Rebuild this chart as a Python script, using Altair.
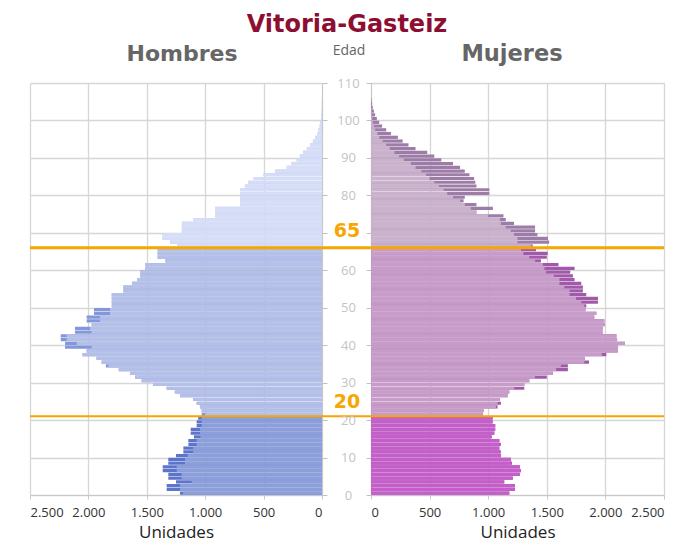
import altair as alt
import pandas as pd

# ---------------- data ----------------
edades = list(range(106))

hombres_claro = [
    1190, 1216, 1216, 1116, 1202, 1202, 1244, 1244, 1173, 1173,   # 0-9
    1150, 1102, 1102, 1073, 1073, 1040, 1045, 1045, 1030, 1030,   # 10-19
    1030, 1000, 1030, 1045, 1073, 1102, 1216, 1260, 1330, 1444,   # 20-29
    1544, 1600, 1644, 1740, 1829, 1887, 1930, 2050, 2015, 1972,   # 30-39
    2100, 2186, 2186, 1972, 1986, 1972, 1900, 1900, 1815, 1815,   # 40-49
    1800, 1800, 1800, 1800, 1700, 1700, 1627, 1584, 1555, 1555,   # 50-59
    1512, 1512, 1340, 1407, 1407, 1407, 1240, 1300, 1365, 1365,   # 60-69
    1200, 1200, 1200, 1100, 913, 913, 913, 700, 700, 700,         # 70-79
    700, 700, 660, 630, 585, 500, 400, 302, 260, 217,             # 80-89
    190, 160, 130, 100, 78, 57, 43, 30, 20, 14,                   # 90-99
    8, 5, 3, 2, 1, 1,                                             # 100-105
]

hombres_oscuro = [
    1216, 1330, 1330, 1250, 1316, 1316, 1364, 1364, 1316, 1316,   # 0-9
    1250, 1187, 1187, 1144, 1144, 1096, 1124, 1124, 1073, 1073,   # 10-19
    1060, 1030, 1030, 1045, 1073, 1102, 1216, 1260, 1330, 1444,   # 20-29
    1544, 1600, 1644, 1740, 1850, 1887, 1930, 2050, 2015, 2200,   # 30-39
    2200, 2237, 2237, 2115, 2115, 1972, 2015, 2015, 1952, 1952,   # 40-49
    1800, 1800, 1800, 1800, 1700, 1700, 1627, 1584, 1555, 1555,   # 50-59
    1512, 1512, 1340, 1407, 1407, 1407, 1240, 1300, 1365, 1365,   # 60-69
    1200, 1200, 1200, 1100, 913, 913, 913, 700, 700, 700,         # 70-79
    700, 700, 660, 630, 585, 500, 400, 302, 260, 217,             # 80-89
    190, 160, 130, 100, 78, 57, 43, 30, 20, 14,                   # 90-99
    8, 5, 3, 2, 1, 1,                                             # 100-105
]

mujeres_claro = [
    1180, 1223, 1223, 1130, 1210, 1265, 1280, 1270, 1194, 1194,   # 0-9
    1109, 1100, 1095, 1095, 1095, 1024, 1052, 1060, 1060, 1038,   # 10-19
    1038, 953, 960, 1066, 1080, 1100, 1165, 1180, 1223, 1308,     # 20-29
    1351, 1400, 1551, 1580, 1620, 1820, 1823, 1970, 2105, 2108,   # 30-39
    2166, 2100, 2094, 1976, 1976, 1994, 1991, 1905, 1923, 1830,   # 40-49
    1820, 1794, 1750, 1694, 1694, 1650, 1608, 1608, 1560, 1494,   # 50-59
    1480, 1466, 1400, 1350, 1300, 1280, 1363, 1250, 1250, 1220,   # 60-69
    1193, 1150, 1108, 1100, 1000, 900, 852, 800, 760, 700,        # 70-79
    650, 620, 580, 540, 500, 470, 430, 380, 340, 280,             # 80-89
    240, 200, 160, 130, 100, 71, 55, 35, 25, 15,                  # 90-99
    10, 6, 4, 2, 1, 0,                                            # 100-105
]

mujeres_oscuro = [
    1180, 1228, 1228, 1138, 1210, 1270, 1280, 1270, 1203, 1194,   # 0-9
    1109, 1108, 1095, 1108, 1095, 1031, 1052, 1060, 1060, 1038,   # 10-19
    1038, 953, 960, 1080, 1109, 1100, 1165, 1180, 1308, 1308,     # 20-29
    1351, 1500, 1551, 1680, 1680, 1860, 1823, 2008, 2105, 2108,   # 30-39
    2166, 2100, 2094, 1976, 1976, 1994, 1991, 1905, 1923, 1830,   # 40-49
    1837, 1937, 1937, 1837, 1808, 1808, 1794, 1737, 1723, 1700,   # 50-59
    1737, 1600, 1450, 1500, 1508, 1408, 1380, 1520, 1510, 1420,   # 60-69
    1400, 1400, 1220, 1150, 1130, 900, 1040, 900, 790, 800,       # 70-79
    1010, 1010, 900, 890, 880, 840, 800, 760, 700, 600,           # 80-89
    540, 480, 380, 320, 270, 230, 170, 130, 95, 70,               # 90-99
    50, 35, 25, 15, 10, 5,                                        # 100-105
]

ticks_unidades = [0, 500, 1000, 1500, 2000, 2500]
ticks_edad = list(range(0, 111, 10))
lineas_edad = [21, 66]
lineas_grosor = [2, 3]
etiquetas_texto = ["20", "65"]
etiquetas_edad = [23.1, 68.8]

# ---------------- styling ----------------
COLORES = {
    "Hc0": "#8c9fdb", "Hc1": "#b4c0e8", "Hc2": "#d5ddf7",
    "Ho0": "#5c74c9", "Ho1": "#8397db", "Ho2": "#b9c5ee",
    "Mc0": "#c45fca", "Mc1": "#c89cc9", "Mc2": "#cab1cc",
    "Mo0": "#b24fbb", "Mo1": "#a05aa8", "Mo2": "#9d7ca8",
}
NARANJA = "#f7a600"
GRID = "#d6d6d6"
W_L, W_R, H, GAP = 292, 293, 412, 49


def tramo(a):
    return "0" if a <= 20 else ("1" if a <= 65 else "2")


rows = []
for sexo, claro, oscuro in [("H", hombres_claro, hombres_oscuro),
                            ("M", mujeres_claro, mujeres_oscuro)]:
    for a, c, o in zip(edades, claro, oscuro):
        rows.append(dict(sexo=sexo, edad=a, serie="o", valor=o, clave=f"{sexo}o{tramo(a)}"))
        rows.append(dict(sexo=sexo, edad=a, serie="c", valor=c, clave=f"{sexo}c{tramo(a)}"))
df = pd.DataFrame(rows)
df["y0"] = df["edad"] + 0.07
df["y1"] = df["edad"] + 0.93

lineas = pd.DataFrame({"y0": lineas_edad, "grosor": lineas_grosor})
etiquetas = pd.DataFrame({"y0": etiquetas_edad, "txt": etiquetas_texto})

color_scale = alt.Scale(domain=list(COLORES.keys()), range=list(COLORES.values()))
fmt = "replace(format(datum.value, ','), ',', '.')"

x_axis_common = dict(values=ticks_unidades, labelExpr=fmt, title="Unidades",
                     grid=True, gridColor=GRID, gridWidth=1.3,
                     domainColor="#c8c8c8", tickColor="#c8c8c8", tickSize=4,
                     labelFont="Open Sans", labelFontSize=13, labelColor="#333333",
                     labelPadding=7, titleFont="Open Sans", titleFontSize=17,
                     titleFontWeight="normal", titleColor="#222222", titlePadding=5)


def cabecera(texto, x, y, size, weight, font, color):
    return alt.Chart(pd.DataFrame({"t": [texto]})).mark_text(
        font=font, fontSize=size, fontWeight=weight, color=color, align="center",
        baseline="alphabetic").encode(x=alt.value(x), y=alt.value(y), text="t:N")


def panel(sexo, reverse, width, y_axis):
    x_enc = alt.X("valor:Q", scale=alt.Scale(domain=[0, 2500], reverse=reverse, nice=False),
                  axis=alt.Axis(**x_axis_common))
    y_enc = alt.Y("y0:Q", scale=alt.Scale(domain=[0, 110], nice=False), axis=y_axis)
    base = alt.Chart(df).transform_filter(alt.datum.sexo == sexo)
    oscuro = base.transform_filter(alt.datum.serie == "o").mark_bar(strokeWidth=0).encode(
        x=x_enc, x2=alt.X2(datum=0), y=y_enc, y2="y1:Q",
        color=alt.Color("clave:N", scale=color_scale, legend=None))
    claro = base.transform_filter(alt.datum.serie == "c").mark_bar(strokeWidth=0).encode(
        x=x_enc, x2=alt.X2(datum=0), y=y_enc, y2="y1:Q",
        color=alt.Color("clave:N", scale=color_scale, legend=None))
    ext = width + GAP if reverse else width
    reglas = alt.Chart(lineas).mark_rule(color=NARANJA).encode(
        y=y_enc, x=alt.value(0), x2=alt.value(ext),
        strokeWidth=alt.StrokeWidth("grosor:Q", scale=None))
    layers = [oscuro, claro, reglas]
    if reverse:
        textos = alt.Chart(etiquetas).mark_text(
            color=NARANJA, font="DejaVu Sans", fontWeight="bold", fontSize=19,
            align="center", baseline="alphabetic").encode(
            y=y_enc, x=alt.value(width + 25), text="txt:N")
        layers.append(textos)
        layers.append(cabecera("Hombres", 152, -22, 22, "bold", "DejaVu Sans", "#666666"))
    else:
        layers.append(cabecera("Edad", -22, -28, 14, "normal", "Open Sans", "#666666"))
        layers.append(cabecera("Mujeres", 141, -22, 22.5, "bold", "DejaVu Sans", "#666666"))
    return alt.layer(*layers).properties(width=width, height=H)


y_axis_left = alt.Axis(orient="right", values=ticks_edad, labels=False, title=None,
                       grid=True, gridColor=GRID, gridWidth=1.3, domainColor="#c8c8c8",
                       tickColor="#c0c0c0", tickSize=5)
y_axis_right = alt.Axis(orient="left", values=ticks_edad, grid=True, gridColor=GRID,
                        gridWidth=1.3, domainColor="#c8c8c8", tickColor="#c0c0c0",
                        tickSize=5, labelAlign="center", labelBaseline="middle",
                        labelPadding=18, labelFont="Open Sans", labelFontSize=13,
                        labelColor="#c4c4c4", title=None,
                        labelExpr="datum.value == 70 ? '' : datum.label")

izq = panel("H", True, W_L, y_axis_left)
der = panel("M", False, W_R, y_axis_right)

chart = alt.hconcat(izq, der, spacing=GAP, bounds="flush").properties(
    title=alt.TitleParams("Vitoria-Gasteiz", font="DejaVu Sans", fontSize=24,
                          fontWeight="bold", color="#8c0f33", anchor="middle", offset=6),
    padding={"left": 20, "right": 0, "top": 5, "bottom": 56},
).configure_view(stroke=None).configure_concat(spacing=GAP)

chart.save("out.html", embed_options={"renderer": "svg", "actions": False})
